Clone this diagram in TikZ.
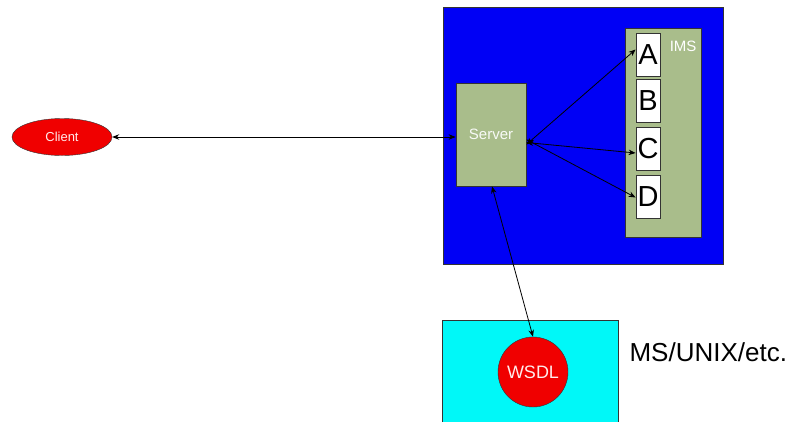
\documentclass[tikz,border=0pt]{standalone}
\usepackage{fontspec}
\setmainfont{Liberation Sans}
\usetikzlibrary{arrows.meta,shapes.geometric}
\definecolor{sage}{HTML}{A9BD8B}
\definecolor{bblue}{HTML}{0000F5}
\definecolor{ccyan}{HTML}{00F8F8}
\definecolor{rred}{HTML}{F00000}
\begin{document}
\begin{tikzpicture}[x=1pt,y=-1pt,
  box/.style={draw=black!80,line width=0.8pt,inner sep=0pt},
  letterbox/.style={box,fill=white,minimum width=24pt,minimum height=43pt,font=\fontsize{29}{29}\selectfont},
  link/.style={{Stealth[length=7pt,width=5.5pt]}-{Stealth[length=7pt,width=5.5pt]},line width=0.8pt,black}]
\useasboundingbox (0,0) rectangle (798,421);
\node[box,fill=bblue,minimum width=280pt,minimum height=257pt,anchor=north west] (outer) at (443,7) {};
\node[box,fill=ccyan,minimum width=176pt,minimum height=110pt,anchor=north west] (plat) at (442,320) {};
\node[box,fill=sage,minimum width=76pt,minimum height=209pt,anchor=north west] (ims) at (625,28) {};
\node[text=white,font=\fontsize{15}{15}\selectfont,anchor=north east] (imsl) at (700,37) {IMS};
\node[letterbox] (A) at (648,54.5) {A};
\node[letterbox] (B) at (648,101) {B};
\node[letterbox] (C) at (648,149) {C};
\node[letterbox] (D) at (648,196.5) {D};
\node[box,fill=sage,minimum width=70pt,minimum height=103pt,text=white!92!sage,font=\fontsize{15}{15}\selectfont] (server) at (491,134.5) {Server};
\node[draw=black!80,fill=rred,ellipse,minimum width=100pt,minimum height=37pt,inner sep=0pt,text=white!92!red,font=\fontsize{13}{13}\selectfont] (client) at (62,137) {Client};
\node[draw=black!80,fill=rred,circle,minimum size=70pt,inner sep=0pt,text=white!92!red,font=\fontsize{18}{18}\selectfont] (wsdl) at (533,372) {WSDL};
\node[font=\fontsize{26}{26}\selectfont,anchor=west] (os) at (626,352) {MS/UNIX/etc.};
\draw[link] (client.east) -- (server.west |- client.east);
\draw[link] ([yshift=-10pt]server.east) -- ([yshift=5pt]A.west);
\draw[link] ([yshift=-8pt]server.east) -- ([yshift=-4pt]C.west);
\draw[link] ([yshift=-5pt]server.east) -- ([yshift=-1pt]D.west);
\draw[link] ([xshift=1pt]server.south) -- (wsdl.north);
\end{tikzpicture}
\end{document}
